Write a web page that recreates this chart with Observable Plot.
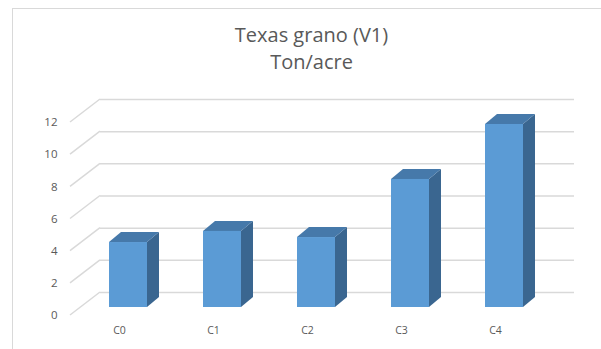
<!DOCTYPE html>
<html>
<head>
<meta charset="utf-8">
<script src="https://cdn.jsdelivr.net/npm/d3@7"></script>
<script src="https://cdn.jsdelivr.net/npm/@observablehq/plot@0.6"></script>
<style>
  html, body { margin: 0; padding: 0; background: #fff; }
  #wrap { position: relative; width: 601px; height: 349px; overflow: hidden; font-family: "Open Sans", Lato, sans-serif; }
  #frame { position: absolute; left: 12px; top: 8px; width: 600px; height: 360px; border-left: 1px solid #d9d9d9; border-top: 1px solid #d9d9d9; }
  #title { position: absolute; left: 0; width: 623px; top: 21px; text-align: center; color: #595959; font-size: 20px; line-height: 27px; }
  #chart { position: absolute; left: 0; top: 0; }
</style>
</head>
<body>
<div id="wrap">
  <div id="frame"></div>
  <div id="title"></div>
  <div id="chart"></div>
</div>
<script>
const titleLines = ["Texas grano (V1)", "Ton/acre"];
const categories = ["C0", "C1", "C2", "C3", "C4"];
const values = [4.04, 4.73, 4.35, 7.96, 11.38];
const yTicks = [0, 2, 4, 6, 8, 10, 12];

const frontColor = "#5b9bd5";
const topColor = "#4679aa";
const sideColor = "#3a6690";
const gridColor = "#d9d9d9";
const depth = [12, -10];      // bar depth (px)
const wallBack = [20, -15];   // bar plane -> back wall (px)
const wallFront = [-10, 8];   // bar plane -> front edge (px)

document.getElementById("title").innerHTML = titleLines.map(t => `<div>${t}</div>`).join("");

const data = categories.map((c, i) => ({cat: c, value: values[i]}));

// left wall diagonals, drawn with the plot's y scale
function leftWall(index, scales, vals, dims) {
  const g = d3.create("svg:g");
  const x0 = dims.marginLeft;
  for (const t of yTicks) {
    const yy = scales.y(t);
    g.append("line")
      .attr("x1", x0 + wallFront[0]).attr("y1", yy + wallFront[1])
      .attr("x2", x0 + wallBack[0]).attr("y2", yy + wallBack[1])
      .attr("stroke", gridColor).attr("stroke-width", 1.5);
  }
  return g.node();
}

// side and top faces of the 3D bars
function barFaces(index, scales) {
  const g = d3.create("svg:g");
  const bw = scales.x.bandwidth ? scales.x.bandwidth() : 38;
  const [dx, dy] = depth;
  data.forEach(d => {
    const xl = scales.x(d.cat), xr = xl + bw;
    const y0 = scales.y(0), yt = scales.y(d.value);
    g.append("polygon")
      .attr("points", [[xr, y0], [xr, yt], [xr + dx, yt + dy], [xr + dx, y0 + dy]].join(" "))
      .attr("fill", sideColor);
    g.append("polygon")
      .attr("points", [[xl, yt], [xl + dx, yt + dy], [xr + dx, yt + dy], [xr, yt]].join(" "))
      .attr("fill", topColor);
  });
  return g.node();
}

const chart = Plot.plot({
  width: 601,
  height: 349,
  marginTop: 114,
  marginBottom: 42,
  marginLeft: 80,
  marginRight: 50,
  style: {fontFamily: "'Open Sans', Lato, sans-serif", fontSize: "11.5px", color: "#595959", background: "transparent"},
  x: {domain: categories, paddingInner: 0.596, paddingOuter: 0.2976, axis: null},
  y: {domain: [0, 12], axis: null},
  marks: [
    Plot.ruleY(yTicks, {y: d => d, dx: wallBack[0], dy: wallBack[1], stroke: gridColor, strokeWidth: 1.5, insetRight: -3}),
    leftWall,
    Plot.text(yTicks, {y: d => d, text: d => String(d), frameAnchor: "left", textAnchor: "end", dx: -23, dy: wallFront[1], fill: "#595959"}),
    barFaces,
    Plot.barY(data, {x: "cat", y: "value", fill: frontColor}),
    Plot.text(categories, {x: d => d, text: d => d, frameAnchor: "bottom", dy: 26, dx: -9, fill: "#595959", fontSize: 10.5})
  ]
});
document.getElementById("chart").appendChild(chart);
</script>
</body>
</html>
